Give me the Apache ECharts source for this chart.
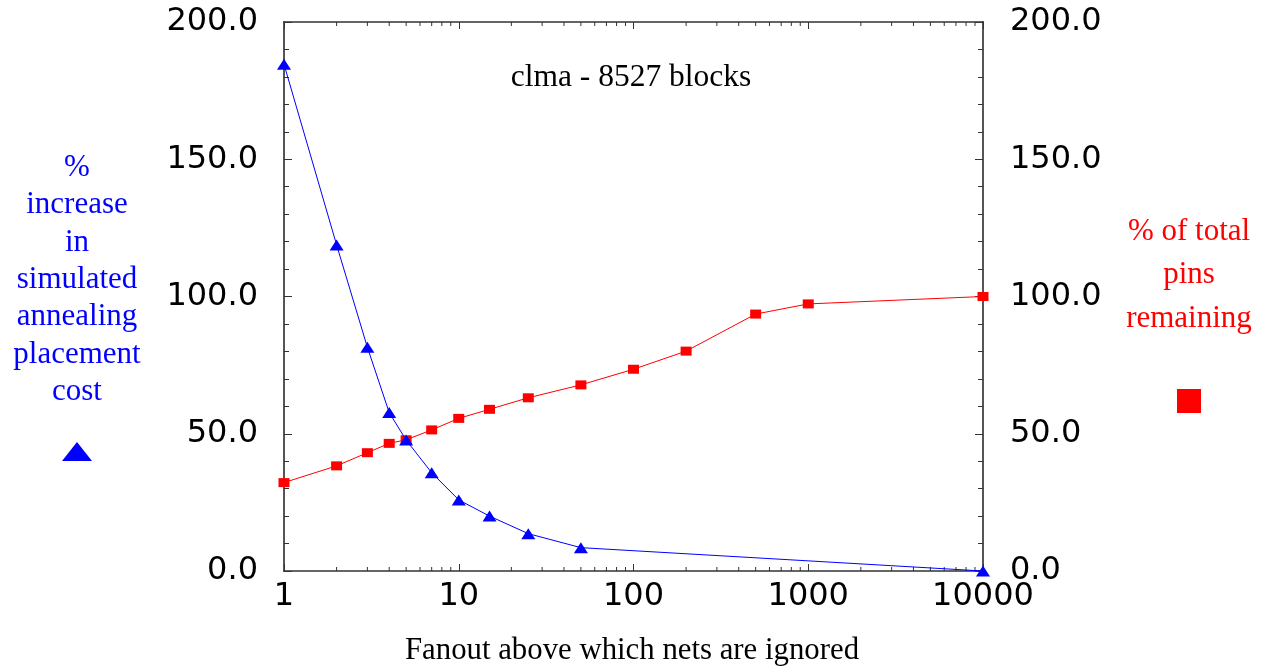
<!DOCTYPE html>
<html>
<head>
<meta charset="utf-8">
<title>clma - 8527 blocks</title>
<script src="https://cdn.jsdelivr.net/npm/echarts@6/dist/echarts.min.js"></script>
<style>
  html, body { margin: 0; padding: 0; background: #fff; }
  #chart { width: 1271px; height: 667px; }
</style>
</head>
<body>
<div id="chart"></div>
<script>
// Fanout thresholds and the measured curves
const costFanout = [1, 2, 3, 4, 5, 7, 10, 15, 25, 50, 10000];
const costIncrease = [184.6, 118.8, 81.5, 57.7, 47.7, 35.8, 25.9, 20.0, 13.6, 8.5, 0];

const pinFanout = [1, 2, 3, 4, 5, 7, 10, 15, 25, 50, 100, 200, 500, 1000, 10000];
const pinsRemaining = [32.2, 38.3, 43.1, 46.5, 47.8, 51.4, 55.6, 58.9, 63.1, 67.8, 73.5, 80.1, 93.6, 97.3, 100];

// Log-axis labels and the in-between minor tick positions
const xTickLabels = ['1', '10', '100', '1000', '10000'];
const xMinorTicks = [2, 3, 4, 5, 6, 7, 8, 9,
                     20, 30, 40, 50, 60, 70, 80, 90,
                     200, 300, 400, 500, 600, 700, 800, 900,
                     2000, 3000, 4000, 5000, 6000, 7000, 8000, 9000];

const BLUE = '#0000ff';
const RED = '#ff0000';
const SERIF = '"Liberation Serif", "Times New Roman", serif';
const SANS = '"DejaVu Sans", sans-serif';

const chart = echarts.init(document.getElementById('chart'), null, { renderer: 'canvas' });

const xAxisBase = {
  type: 'log',
  logBase: 10,
  min: 1,
  max: 10000,
  axisLine: { show: true, onZero: false, lineStyle: { color: '#333', width: 1.5 } },
  axisTick: { show: true, inside: true, length: 7, lineStyle: { color: '#333', width: 1 } },
  splitLine: { show: false }
};

const yAxisBase = {
  type: 'value',
  min: 0,
  max: 200,
  interval: 50,
  axisLine: { show: true, onZero: false, lineStyle: { color: '#555', width: 2 } },
  axisTick: { show: true, inside: true, length: 8, lineStyle: { color: '#333', width: 1 } },
  minorTick: { show: true, splitNumber: 5, length: 5, lineStyle: { color: '#333', width: 1 } },
  splitLine: { show: false },
  axisLabel: {
    color: '#000',
    fontFamily: SANS,
    fontSize: 32,
    margin: 26,
    formatter: v => v.toFixed(1)
  }
};

const option = {
  animation: false,
  backgroundColor: '#fff',
  grid: { left: 284, right: 288, top: 22, bottom: 96, containLabel: false },
  xAxis: [
    Object.assign({}, xAxisBase, {
      position: 'bottom',
      axisLabel: {
        color: '#000',
        fontFamily: SANS,
        fontSize: 32,
        margin: 10,
        formatter: (v) => xTickLabels[Math.round(Math.log10(v))]
      }
    }),
    Object.assign({}, xAxisBase, {
      position: 'top',
      axisLabel: { show: false }
    })
  ],
  yAxis: [
    Object.assign({}, yAxisBase, { position: 'left' }),
    Object.assign({}, yAxisBase, { position: 'right', axisLabel: Object.assign({}, yAxisBase.axisLabel, { margin: 27 }) })
  ],
  series: [
    {
      // minor ticks of the log axis on the bottom and top edges
      type: 'custom',
      xAxisIndex: 0,
      yAxisIndex: 0,
      silent: true,
      clip: false,
      data: xMinorTicks.map(v => [v, 0]),
      renderItem: function (params, api) {
        const cs = params.coordSys;
        const x = api.coord([api.value(0), 0])[0];
        const style = { stroke: '#333', lineWidth: 1 };
        return {
          type: 'group',
          children: [
            { type: 'line', shape: { x1: x, y1: cs.y + cs.height, x2: x, y2: cs.y + cs.height - 4 }, style: style },
            { type: 'line', shape: { x1: x, y1: cs.y, x2: x, y2: cs.y + 4 }, style: style }
          ]
        };
      },
      z: 1
    },
    {
      name: '% of total pins remaining',
      type: 'line',
      xAxisIndex: 0,
      yAxisIndex: 1,
      data: pinFanout.map((f, i) => [f, pinsRemaining[i]]),
      symbol: 'rect',
      symbolSize: [11, 9],
      showAllSymbol: true,
      clip: false,
      lineStyle: { color: RED, width: 1 },
      itemStyle: { color: RED },
      z: 3
    },
    {
      name: '% increase in simulated annealing placement cost',
      type: 'line',
      xAxisIndex: 0,
      yAxisIndex: 0,
      data: costFanout.map((f, i) => [f, costIncrease[i]]),
      symbol: 'triangle',
      symbolSize: [14, 11],
      showAllSymbol: true,
      clip: false,
      lineStyle: { color: BLUE, width: 1 },
      itemStyle: { color: BLUE },
      z: 4
    }
  ],
  graphic: [
    {
      type: 'text',
      x: 631, y: 78,
      style: {
        text: 'clma - 8527 blocks',
        fill: '#000',
        font: '31.5px ' + SERIF,
        textAlign: 'center',
        textVerticalAlign: 'middle'
      }
    },
    {
      type: 'text',
      x: 632, y: 651,
      style: {
        text: 'Fanout above which nets are ignored',
        fill: '#000',
        font: '30.8px ' + SERIF,
        textAlign: 'center',
        textVerticalAlign: 'middle'
      }
    },
    {
      type: 'text',
      x: 77, y: 149,
      style: {
        text: '%\nincrease\nin\nsimulated\nannealing\nplacement\ncost',
        fill: BLUE,
        font: '31px ' + SERIF,
        lineHeight: 37.4,
        textAlign: 'center',
        textVerticalAlign: 'top'
      }
    },
    {
      type: 'polygon',
      shape: { points: [[77, 442], [92, 461], [62, 461]] },
      style: { fill: BLUE }
    },
    {
      type: 'text',
      x: 1189, y: 210,
      style: {
        text: '% of total\npins\nremaining',
        fill: RED,
        font: '31px ' + SERIF,
        lineHeight: 43.5,
        textAlign: 'center',
        textVerticalAlign: 'top'
      }
    },
    {
      type: 'rect',
      shape: { x: 1177, y: 389, width: 24, height: 24 },
      style: { fill: RED }
    }
  ]
};

chart.setOption(option);
</script>
</body>
</html>
